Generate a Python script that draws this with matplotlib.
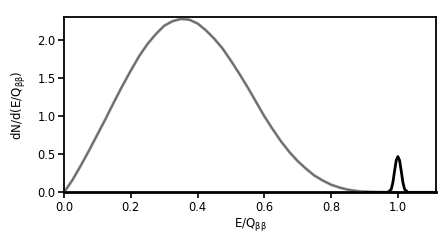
import matplotlib
matplotlib.use("Agg")
import matplotlib.pyplot as plt

# 2-neutrino spectrum
x2 = [0.0, 0.025, 0.05, 0.075, 0.10, 0.125, 0.15, 0.175, 0.20, 0.225, 0.25, 0.275,
      0.30, 0.325, 0.35, 0.375, 0.40, 0.425, 0.45, 0.475, 0.50, 0.525, 0.55, 0.575,
      0.60, 0.625, 0.65, 0.675, 0.70, 0.725, 0.75, 0.775, 0.80, 0.825, 0.85, 0.875,
      0.90, 0.925, 0.95, 0.975, 1.0]
y2 = [0.0, 0.16, 0.35, 0.55, 0.76, 0.97, 1.19, 1.40, 1.60, 1.79, 1.95, 2.08,
      2.19, 2.25, 2.28, 2.27, 2.22, 2.13, 2.02, 1.89, 1.73, 1.56, 1.38, 1.19,
      1.00, 0.83, 0.67, 0.53, 0.41, 0.31, 0.22, 0.155, 0.10, 0.063, 0.035, 0.018,
      0.008, 0.003, 0.001, 0.0, 0.0]

# 0-neutrino peak
x0 = [0.90, 0.97, 0.98, 0.985, 0.99, 0.995, 1.0, 1.005, 1.01, 1.015, 1.02, 1.03, 1.11]
y0 = [0.0, 0.0, 0.04, 0.13, 0.28, 0.42, 0.47, 0.42, 0.28, 0.13, 0.04, 0.0, 0.0]

xticks = [0.0, 0.2, 0.4, 0.6, 0.8, 1.0]
yticks = [0.0, 0.5, 1.0, 1.5, 2.0]

plt.rcParams['font.family'] = ['DejaVu Sans']
fig = plt.figure(figsize=(4.46, 2.45), dpi=100)
ax = fig.add_axes([0.1435, 0.215, 0.834, 0.714])

ax.plot(x2, y2, color='#8c8c8c', lw=2.0, solid_capstyle='butt', zorder=2)
ax.plot(x2, y2, color='#333333', lw=0.7, dashes=(0.6, 0.6), zorder=3)
ax.plot(x0, y0, color='black', lw=2.0, zorder=4)

ax.set_xlim(0, 1.114)
ax.set_ylim(0, 2.30)
ax.set_xticks(xticks)
ax.set_yticks(yticks)
ax.set_xticklabels([f"{v:.1f}" for v in xticks])
ax.set_yticklabels([f"{v:.1f}" for v in yticks])
ax.tick_params(direction='out', length=4, width=1.2, labelsize=8.3, colors='black', pad=2)
for s in ax.spines.values():
    s.set_linewidth(1.3)
ax.spines['bottom'].set_linewidth(2.0)

ax.set_xlabel(r'E/Q$_{\mathregular{\beta\beta}}$', fontsize=8.5, labelpad=2)
ax.set_ylabel(r'dN/d(E/Q$_{\mathregular{\beta\beta}}$)', fontsize=8.5, labelpad=7)

fig.savefig('out.png', dpi=100)
